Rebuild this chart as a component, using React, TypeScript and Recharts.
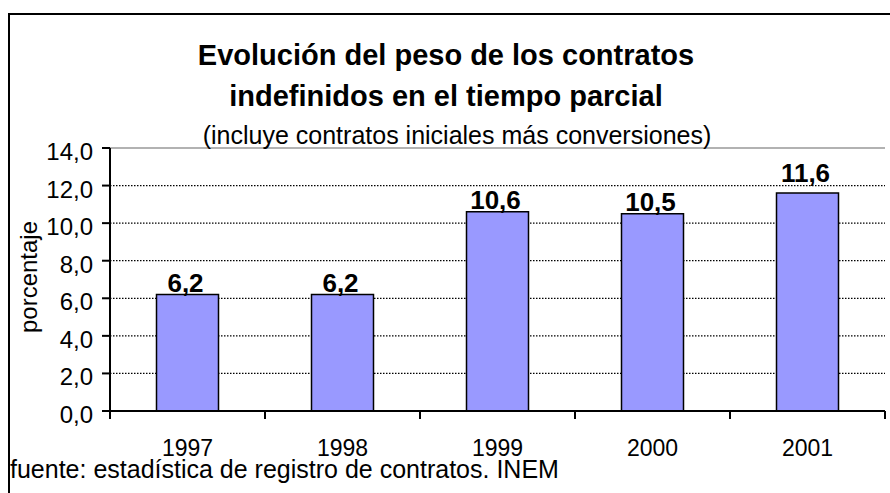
import React from 'react';
import { BarChart, Bar, XAxis, YAxis, CartesianGrid, ReferenceLine, LabelList } from 'recharts';

const years = ['1997', '1998', '1999', '2000', '2001'];
const pesoIndefinidos = [6.2, 6.2, 10.6, 10.5, 11.6];
const yTicks = [0, 2, 4, 6, 8, 10, 12, 14];

const titleLine1 = 'Evolución del peso de los contratos';
const titleLine2 = 'indefinidos en el tiempo parcial';
const subtitle = '(incluye contratos iniciales más conversiones)';
const yLabel = 'porcentaje';
const source = 'fuente: estadística de registro de contratos. INEM';

const FONT = '"Liberation Sans", Arial, sans-serif';

const data = years.map((year, i) => ({ year, value: pesoIndefinidos[i] }));

const fmt = (v: number) => v.toFixed(1).replace('.', ',');

const YTick = ({ x, y, payload }: any) => (
    <text x={x} y={y + 12} textAnchor="end" fontSize={24} fontFamily={FONT} fill="#000">
        {fmt(payload.value)}
    </text>
);

const XTick = (props: any) => {
    const { x, y, payload, index, visibleTicksCount, width } = props;
    const half = payload.offset ?? width / visibleTicksCount / 2;
    return (
        <g>
            <line x1={x - half} x2={x - half} y1={y} y2={y + 8} stroke="#000" strokeWidth={2} />
            {index === visibleTicksCount - 1 && (
                <line x1={x + half} x2={x + half} y1={y} y2={y + 8} stroke="#000" strokeWidth={2} />
            )}
            <text x={x} y={y + 45} textAnchor="middle" fontSize={23} fontFamily={FONT} fill="#000">
                {payload.value}
            </text>
        </g>
    );
};

// in the original the last label sits a bit higher, clear of the 12,0 gridline
const BarLabel = ({ x, y, width, value, index }: any) => {
    const lift = index === data.length - 1 ? 11 : 3;
    return (
        <text
            x={x + width / 2 - 2}
            y={y - lift}
            textAnchor="middle"
            fontSize={26}
            fontWeight="bold"
            fontFamily={FONT}
            fill="#000"
        >
            {fmt(Number(value))}
        </text>
    );
};

export default function App() {
    return (
        <div style={{ position: 'fixed', left: 0, top: 0, width: 890, height: 493, overflow: 'hidden', background: '#fff' }}>
            <BarChart
                width={890}
                height={493}
                data={data}
                margin={{ top: 148, right: 5, left: 50, bottom: 0 }}
                barCategoryGap="30%"
            >
                <CartesianGrid
                    vertical={false}
                    horizontalValues={yTicks.slice(1, -1)}
                    stroke="#000"
                    strokeDasharray="1.5 1.5"
                    strokeWidth={1.2}
                />
                <XAxis
                    dataKey="year"
                    height={82}
                    tickLine={false}
                    tickSize={0}
                    tickMargin={0}
                    axisLine={{ stroke: '#000', strokeWidth: 2 }}
                    tick={<XTick />}
                    interval={0}
                />
                <YAxis
                    width={60}
                    domain={[0, 14]}
                    ticks={yTicks}
                    interval={0}
                    tickSize={8}
                    tickMargin={9}
                    axisLine={{ stroke: '#000', strokeWidth: 2 }}
                    tickLine={{ stroke: '#000', strokeWidth: 2 }}
                    tick={<YTick />}
                />
                <YAxis
                    yAxisId="right"
                    orientation="right"
                    width={0}
                    domain={[0, 14]}
                    tick={false}
                    tickLine={false}
                    axisLine={{ stroke: '#999', strokeWidth: 1.5 }}
                />
                <ReferenceLine y={14} stroke="#999" strokeWidth={1.5} />
                <Bar dataKey="value" fill="#9999FF" stroke="#000" strokeWidth={1.5} isAnimationActive={false}>
                    <LabelList dataKey="value" content={<BarLabel />} />
                </Bar>
            </BarChart>
            <svg width={890} height={493} style={{ position: 'absolute', left: 0, top: 0, pointerEvents: 'none' }}>
                <line x1={8} x2={890} y1={14} y2={14} stroke="#000" strokeWidth={2} />
                <line x1={9} x2={9} y1={13} y2={493} stroke="#000" strokeWidth={2} />
                <text x={446} y={65} textAnchor="middle" fontSize={29} fontWeight="bold" fontFamily={FONT}>
                    {titleLine1}
                </text>
                <text x={446} y={106} textAnchor="middle" fontSize={29} fontWeight="bold" fontFamily={FONT}>
                    {titleLine2}
                </text>
                <text x={457} y={144} textAnchor="middle" fontSize={25} fontFamily={FONT}>
                    {subtitle}
                </text>
                <text x={37} y={277} textAnchor="middle" fontSize={24} fontFamily={FONT} transform="rotate(-90 37 277)">
                    {yLabel}
                </text>
                <text x={10} y={478} fontSize={25} fontFamily={FONT}>
                    {source}
                </text>
            </svg>
        </div>
    );
}
